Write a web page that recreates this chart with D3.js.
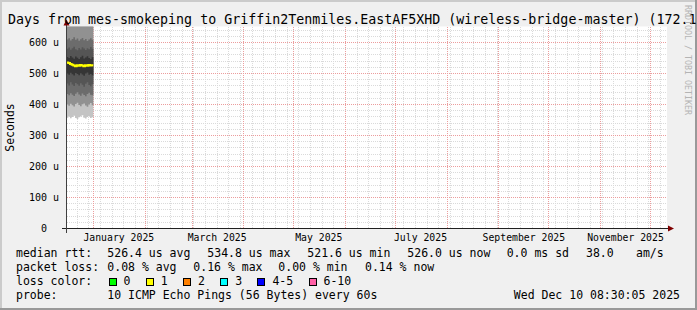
<!DOCTYPE html>
<html><head><meta charset="utf-8">
<script src="https://cdn.jsdelivr.net/npm/d3@7/dist/d3.min.js"></script>
<style>
body{margin:0;background:#f0f0f0}
svg{display:block}
text{font-family:"DejaVu Sans Mono",monospace;white-space:pre}
</style>
</head><body>
<svg id="chart" width="697" height="310"></svg>
<script>
// ---------- data ----------
const titleText = "Days from mes-smokeping to Griffin2Tenmiles.EastAF5XHD (wireless-bridge-master) (172.1";
const sampleDays = ["2024-12-16","2024-12-17","2024-12-18","2024-12-19","2024-12-20","2024-12-21","2024-12-22","2024-12-23",
                    "2024-12-24","2024-12-25","2024-12-26","2024-12-27","2024-12-28","2024-12-29","2024-12-30","2024-12-31"];
const dataEnd = "2025-01-01";
// ping rank values (microseconds), sorted lowest (ping1) to highest (ping10)
const ping1  = [356,360,354,358,362,355,352,357,360,364,356,353,358,361,355,357];
const ping2  = [398,394,401,396,392,400,404,397,393,399,402,395,391,398,403,396];
const ping3  = [432,428,435,430,426,433,438,431,427,434,429,425,432,436,430,428];
const ping4  = [466,460,470,463,458,468,464,459,467,462,456,465,470,461,457,464];
const ping5  = [498,494,501,496,492,500,497,493,499,495,491,498,502,494,497,493];
const ping6  = [552,548,555,550,546,553,549,545,551,556,547,550,554,548,545,551];
const ping7  = [578,582,575,580,585,577,573,581,576,583,579,574,580,577,584,578];
const ping8  = [608,612,605,610,615,607,611,604,609,613,606,610,603,608,612,607];
const ping9  = [665,670,660,668,672,662,666,671,659,664,669,663,667,661,670,665];
const ping10 = [740,735,745,738,742,736,744,739,741,737,743,740,736,745,738,741];
const medianRtt = [534,532,529,527,524,522,525,523,526,524,522,525,523,526,524,525];
const medianLossBucket = [1,1,1,1,1,1,1,1,1,1,1,1,1,1,1,1];

const yMajorTicks = [0,100,200,300,400,500,600];
const yMinorTicks = [20,40,60,80,120,140,160,180,220,240,260,280,320,340,360,380,420,440,460,480,520,540,560,580,620,640];
const monthLabelDates = ["2025-01-16","2025-03-16","2025-05-16","2025-07-16","2025-09-16","2025-11-16"];
const monthLabels = ["January 2025","March 2025","May 2025","July 2025","September 2025","November 2025"];
const timeDomain = ["2024-12-16T05:00:00Z","2025-12-11T05:00:00Z"];
const yDomain = [0, 650];

const lossLabels = ["0","1","2","3","4-5","6-10"];
const legendRtt = ["526.4 us avg","534.8 us max","521.6 us min","526.0 us now","0.0 ms sd","38.0","am/s"];
const legendLoss = ["0.08 % avg","0.16 % max","0.00 % min","0.14 % now"];
const probeText = "10 ICMP Echo Pings (56 Bytes) every 60s";
const stampText = "Wed Dec 10 08:30:05 2025";

// ---------- styles ----------
const lossColors = ["#00ff00","#ffff00","#ff8000","#00ffff","#0000ff","#ff5fa5"];
const smokeColors = ["#c4c4c4","#919191","#6c6c6c","#555555","#353535"];

// ---------- layout ----------
const L = 67, R = 667, B = 228;
const svg = d3.select("#chart");
const x = d3.scaleUtc().domain(timeDomain.map(d => new Date(d))).range([L, R]);
const y = d3.scaleLinear().domain(yDomain).range([B, B - 0.31 * yDomain[1]]);
const T = y(yDomain[1]);

// background + shading frame
svg.append("rect").attr("width",697).attr("height",310).attr("fill","#f0f0f0");
svg.append("rect").attr("x",0).attr("y",0).attr("width",697).attr("height",2).attr("fill","#cbcbcb");
svg.append("rect").attr("x",0).attr("y",0).attr("width",2).attr("height",310).attr("fill","#cbcbcb");
svg.append("rect").attr("x",0).attr("y",308).attr("width",697).attr("height",2).attr("fill","#999999");
svg.append("rect").attr("x",695).attr("y",0).attr("width",2).attr("height",310).attr("fill","#999999");

// canvas
svg.append("rect").attr("x",L).attr("y",T).attr("width",R-L).attr("height",B-T).attr("fill","#ffffff");

// grid
const g = svg.append("g").attr("shape-rendering","crispEdges");
const weeks = d3.utcSunday.range(x.domain()[0], x.domain()[1]);
const months = d3.utcMonth.range(x.domain()[0], x.domain()[1]);
g.selectAll(".vmin").data(weeks).join("line")
  .attr("x1",d=>Math.round(x(d))+0.5).attr("x2",d=>Math.round(x(d))+0.5).attr("y1",T).attr("y2",B)
  .attr("stroke","#dadada").attr("stroke-dasharray","1,1");
g.selectAll(".hmin").data(yMinorTicks).join("line")
  .attr("x1",L).attr("x2",R).attr("y1",d=>Math.round(y(d))+0.5).attr("y2",d=>Math.round(y(d))+0.5)
  .attr("stroke","#dadada").attr("stroke-dasharray","1,1");
g.selectAll(".vmaj").data(months).join("line")
  .attr("x1",d=>Math.round(x(d))+0.5).attr("x2",d=>Math.round(x(d))+0.5).attr("y1",T).attr("y2",B)
  .attr("stroke","#ec9d9d").attr("stroke-dasharray","1,1");
g.selectAll(".hmaj").data(yMajorTicks.filter(v=>v>0)).join("line")
  .attr("x1",L).attr("x2",R).attr("y1",d=>Math.round(y(d))+0.5).attr("y2",d=>Math.round(y(d))+0.5)
  .attr("stroke","#ec9d9d").attr("stroke-dasharray","1,1");

// smoke
svg.append("clipPath").attr("id","plotclip").append("rect")
  .attr("x",L).attr("y",T).attr("width",R-L).attr("height",B-T);
const pings = [ping1,ping2,ping3,ping4,ping5,ping6,ping7,ping8,ping9,ping10];
const times = sampleDays.map(d=>new Date(d+"T00:00:00Z")).concat([new Date(dataEnd+"T00:00:00Z")]);
const ext = arr => arr.concat([arr[arr.length-1]]);
const smokeG = svg.append("g").attr("clip-path","url(#plotclip)");
for (let ib = 0; ib < 5; ib++) {
  const lo = ext(pings[ib]), hi = ext(pings[9-ib]);
  const area = d3.area().curve(d3.curveStepAfter)
    .x((d,i)=>x(times[i])).y0((d,i)=>y(lo[i])).y1((d,i)=>y(hi[i]));
  smokeG.append("path").datum(times).attr("d",area).attr("fill",smokeColors[ib]);
}
const med = ext(medianRtt);
const line = d3.line().curve(d3.curveStepAfter).x((d,i)=>x(times[i])).y((d,i)=>y(med[i]));
smokeG.append("path").datum(times).attr("d",line).attr("fill","none")
  .attr("stroke",lossColors[medianLossBucket[0]]).attr("stroke-width",2);

// axes lines
svg.append("line").attr("x1",L-5).attr("x2",R+2).attr("y1",B+0.5).attr("y2",B+0.5)
  .attr("stroke","#202020").attr("shape-rendering","crispEdges");
svg.append("line").attr("x1",L-0.5).attr("x2",L-0.5).attr("y1",B+5).attr("y2",T-4)
  .attr("stroke","#404040").attr("shape-rendering","crispEdges");
svg.append("path").attr("d",`M${R+1},${B-2.5}L${R+7},${B+0.5}L${R+1},${B+3.5}Z`).attr("fill","#7f0000");
svg.append("path").attr("d",`M${L-3.5},${T-1}L${L-0.5},${T-7}L${L+2.5},${T-1}Z`).attr("fill","#7f0000");

// y axis labels
const yAxis = d3.axisLeft(y).tickValues(yMajorTicks).tickSize(0).tickPadding(0)
  .tickFormat(d => d === 0 ? "0  " : d + " u");
const ya = svg.append("g").attr("transform",`translate(59,0)`).call(yAxis);
ya.select(".domain").remove();
ya.selectAll("text").attr("font-family","DejaVu Sans Mono").attr("font-size","10px").attr("fill","#000")
  .attr("dy","3.5").attr("x",0);

// x axis labels
const xAxis = d3.axisBottom(x).tickValues(monthLabelDates.map(d=>new Date(d+"T00:00:00Z")))
  .tickSize(0).tickPadding(0).tickFormat((d,i)=>monthLabels[i]);
const xa = svg.append("g").attr("transform",`translate(0,241)`).call(xAxis);
xa.select(".domain").remove();
xa.selectAll("text").attr("font-family","DejaVu Sans Mono").attr("font-size","9.8px").attr("fill","#000")
  .attr("dy",0).attr("y",0);

// title
svg.append("text").attr("x",8).attr("y",24).attr("font-size","13.3px").attr("fill","#000").text(titleText);

// vertical y title
svg.append("text").attr("transform","translate(14,127.5) rotate(-90)").attr("text-anchor","middle")
  .attr("font-size","11.5px").attr("fill","#000").text("Seconds");

// watermark
svg.append("text").attr("transform","translate(685,5) rotate(90)").attr("font-size","8.3px")
  .attr("fill","#b4b4b4").text("RRDTOOL / TOBI OETIKER");

// legend
const lf = "11.5px";
const addT = (tx, ty, s) => svg.append("text").attr("x",tx).attr("y",ty).attr("font-size",lf).attr("fill","#000").text(s);
addT(16,257,"median rtt:");
[107.3,207.3,307.3,407.3,506.7,586,636].forEach((px,i)=>addT(px,257,legendRtt[i]));
addT(16,271,"packet loss:");
[107.3,193.3,278.3,365].forEach((px,i)=>addT(px,271,legendLoss[i]));
addT(16,285,"loss color:");
let lx = 109;
lossLabels.forEach((lab,i)=>{
  svg.append("rect").attr("x",lx).attr("y",278).attr("width",7).attr("height",7)
    .attr("fill",lossColors[i]).attr("stroke","#000").attr("stroke-width",1).attr("shape-rendering","crispEdges");
  addT(lx+14.5,285,lab);
  lx += 14.5 + lab.length*6.93 + 15.8;
});
addT(16,299,"probe:");
addT(107.3,299,probeText);
svg.append("text").attr("x",680).attr("y",299).attr("text-anchor","end").attr("font-size",lf).attr("fill","#000").text(stampText);
</script>
</body></html>
